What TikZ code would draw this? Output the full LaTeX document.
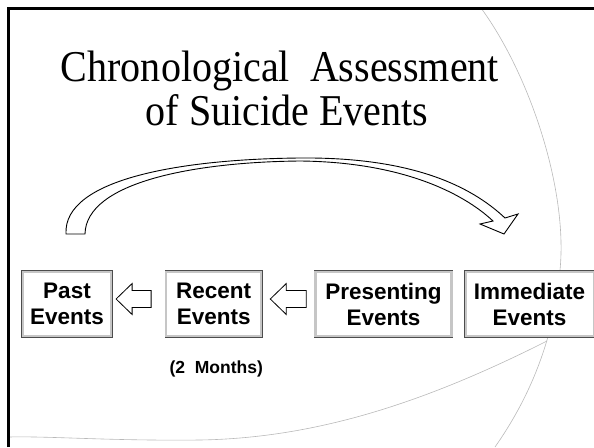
\documentclass[tikz,border=0pt]{standalone}
\usepackage{fontspec}
\setmainfont{Liberation Serif}
\setsansfont{Liberation Sans}
\newfontfamily\titlefont[FakeStretch=0.91]{Liberation Serif}
\usetikzlibrary{positioning,calc}

% hollow block arrow pointing left: #1 tip, #2 tail
\newcommand\hollowarrow[2]{%
  \draw[hollow] let \p1=(#1), \p2=(#2) in
    (\x1,\y1) -- (\x1+16pt,\y1+15.5pt) -- (\x1+16pt,\y1+8.5pt) -- (\x2,\y1+8.5pt)
    -- (\x2,\y1-8.5pt) -- (\x1+16pt,\y1-8.5pt) -- (\x1+16pt,\y1-15.5pt) -- cycle;}

\begin{document}
\begin{tikzpicture}[x=1pt,y=-1pt,% pixel-like units, y going down
    every node/.style={
        align=center  % so that "\\" breaks the line
    },
    event/.style={rectangle,fill=white,draw=gray!45,line width=2.2pt,
        preaction={draw=black!70,line width=3.4pt},
        minimum height=64pt,inner sep=0pt,
        font=\sffamily\bfseries\fontsize{22.5}{26}\selectfont},
    heading/.style={font=\titlefont\fontsize{44}{44}\selectfont,inner sep=0pt,anchor=base},
    hollow/.style={draw=black,line width=0.8pt,fill=white,line join=miter},
    swoosh/.style={draw=gray!55,line width=0.6pt}
  ]
  \useasboundingbox (0,0) rectangle (594,447);

  % background swooshes
  \draw[swoosh] (481,8) .. controls (530,75) and (568,190) .. (560,270)
      .. controls (555,330) and (535,390) .. (495,447);
  \draw[swoosh] (547,341) .. controls (430,400) and (320,438) .. (200,440)
      .. controls (110,441) and (50,436) .. (9,437);

  % frame
  \draw[line width=2.7pt] (8.5,447) -- (8.5,8.5) -- (594,8.5);

  \node[heading](title1) at (280,81) {Chronological\ \ Assessment};
  \node[heading](title2) at (287,125) {of Suicide Events};

  \node[event,minimum width=88pt](past) at (67,304) {Past\\Events};
  \node[event,minimum width=95pt](recent)[right=53pt of past] {Recent\\Events};
  \node[event,minimum width=136pt](presenting)[right=52pt of recent] {Presenting\\Events};
  \node[event,minimum width=128pt](immediate)[right=12pt of presenting] {Immediate\\Events};
  \node[font=\sffamily\bfseries\fontsize{17.5}{20}\selectfont,inner sep=0pt](span)
      [below=24pt of recent,xshift=2.5pt] {(2\ \ Months)};

  \hollowarrow{$(past.east)+(4,-5)$}{$(recent.west)+(-14,0)$}
  \hollowarrow{$(recent.east)+(8,-5)$}{$(presenting.west)+(-8,0)$}

  % big curved arrow from the past over to the immediate events
  \draw[hollow,line width=0.9pt] (66,234) .. controls (63,178) and (185,159) .. (300,158)
      .. controls (410,157) and (470,185) .. (505,218)
      -- (518,214) -- (504,234) -- (480,224) -- (493,221)
      .. controls (462,192) and (400,162) .. (300,161)
      .. controls (195,162) and (86,182) .. (85,234) -- cycle;
\end{tikzpicture}
\end{document}
